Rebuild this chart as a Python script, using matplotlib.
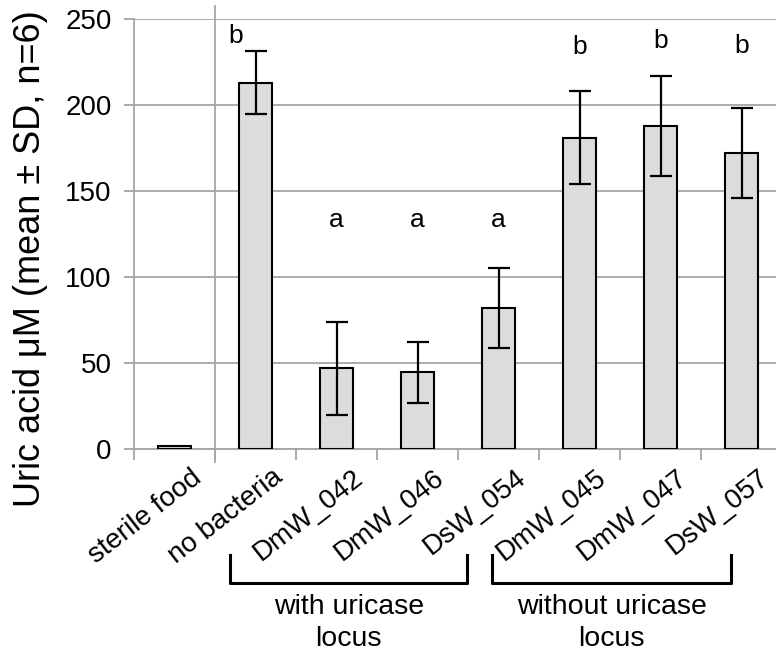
import matplotlib
matplotlib.use("Agg")
import matplotlib.pyplot as plt
import matplotlib.transforms as mtransforms
import numpy as np

plt.rcParams['font.family'] = ['Liberation Sans', 'DejaVu Sans']

# data
categories = ["sterile food", "no bacteria", "DmW_042", "DmW_046", "DsW_054",
              "DmW_045", "DmW_047", "DsW_057"]
means = [1.5, 213, 47, 44.5, 82, 181, 188, 172]
sds = [0, 18.5, 27, 18, 23, 27, 29, 26]
letters = ["", "b", "a", "a", "a", "b", "b", "b"]
letter_y = [0, 240, 133, 133, 133, 234, 237, 234.5]
letter_dx = [0, -0.24, 0, 0, 0, 0, 0, 0]
groups = [("with uricase\nlocus", 0.69, 3.61), ("without uricase\nlocus", 3.92, 6.87)]

fig = plt.figure(figsize=(7.76, 6.56), dpi=100)
ax = fig.add_axes([134/776, 1-449/656, 648/776, 430/656])

x = np.arange(len(categories))
ax.bar(x, means, width=0.41, color="#dcdcdc", edgecolor="black", linewidth=1.5, zorder=3)
err_idx = [i for i in range(len(sds)) if sds[i] > 0]
ax.errorbar(x[err_idx], [means[i] for i in err_idx], yerr=[sds[i] for i in err_idx],
            fmt="none", ecolor="black", elinewidth=1.6, capsize=8, capthick=1.6, zorder=4)

for i, l in enumerate(letters):
    if l:
        ax.text(x[i] + letter_dx[i], letter_y[i], l, ha="center", va="center", fontsize=19)

ax.set_xlim(-0.5, 7.5)
ax.set_ylim(0, 250)
ax.set_yticks([0, 50, 100, 150, 200, 250])
ax.yaxis.grid(True, color="#a6a6a6", linewidth=1.3, zorder=0)
ax.set_axisbelow(True)
for s in ["top", "right"]:
    ax.spines[s].set_visible(False)
for s in ["left", "bottom"]:
    ax.spines[s].set_color("#a6a6a6")
    ax.spines[s].set_linewidth(1.3)
ax.tick_params(axis="y", direction="out", length=7, width=1.3, color="#a6a6a6",
               labelsize=20, pad=9)

ax.set_xticks(x)
ax.set_xticks(np.arange(-0.5, 8, 1), minor=True)
ax.tick_params(axis="x", which="major", length=0, labelsize=20, pad=11)
ax.tick_params(axis="x", which="minor", direction="out", length=8, width=1.3, color="#a6a6a6")
offset = mtransforms.ScaledTranslation(16/100, 0, fig.dpi_scale_trans)
ax.set_xticklabels(categories, rotation=38, ha="right", rotation_mode="anchor")
for lab in ax.get_xticklabels():
    lab.set_transform(lab.get_transform() + offset)

ax.axvline(0.5, ymin=-0.03, ymax=1.03, color="#a6a6a6", linewidth=1.3, clip_on=False, zorder=1)

ax.set_ylabel("Uric acid μM (mean ± SD, n=6)", fontsize=26)
ax.yaxis.set_label_coords(-0.132, 0.442)

trans = mtransforms.blended_transform_factory(ax.transData, ax.transAxes)
for text, x0, x1 in groups:
    ax.plot([x0, x0, x1, x1], [-0.247, -0.312, -0.312, -0.247], color="black",
            linewidth=2.2, transform=trans, clip_on=False, solid_joinstyle="round")
    ax.text((x0 + x1) / 2, -0.338, text, ha="center", va="top", fontsize=20.5,
            linespacing=1.3, transform=trans)

fig.savefig("out.png", dpi=100)
